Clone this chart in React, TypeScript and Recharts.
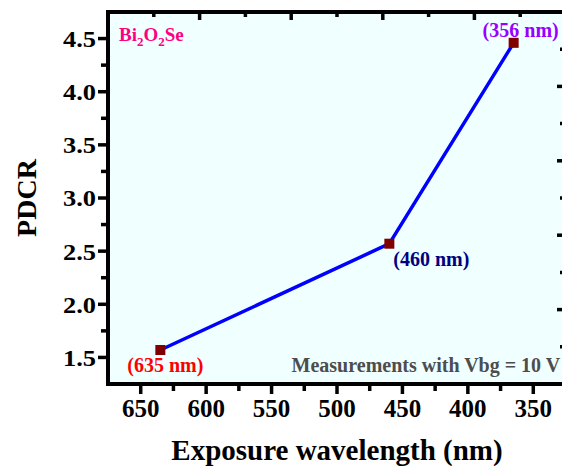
import React from 'react';
import { LineChart, Line, XAxis, YAxis, CartesianGrid, ReferenceArea, ReferenceDot } from 'recharts';

// measured points (x = exposure wavelength, nm)
const wavelengths = [635, 460, 365];
const pdcr = [1.57, 2.57, 4.46];
const pointLabels = ['(635 nm)', '(460 nm)', '(356 nm)'];

const xTicks = [650, 625, 600, 575, 550, 525, 500, 475, 450, 425, 400, 375, 350];
const yTicks = [1.5, 1.75, 2.0, 2.25, 2.5, 2.75, 3.0, 3.25, 3.5, 3.75, 4.0, 4.25, 4.5];
// the top / right frame ticks split the box into 10 equal parts
const topTicks = [640, 605, 570, 535, 500, 465, 430, 395, 360];
const rightTicks = [1.6, 1.95, 2.3, 2.65, 3.0, 3.35, 3.7, 4.05, 4.4];

const data = wavelengths.map((w, i) => ({ w, pdcr: pdcr[i], label: pointLabels[i] }));

const X_DOMAIN = [325, 675];
const Y_DOMAIN = [1.25, 4.75];
const FONT = 'Liberation Serif, serif';

const labelStyles = [
    { color: '#FF0000', dx: 5, dy: 22, anchor: 'middle' },
    { color: '#000080', dx: 4, dy: 22, anchor: 'start' },
    { color: '#9900FF', dx: 7, dy: -6, anchor: 'middle' },
];

const SquareDot = (props: any) => {
    const { cx, cy, index, payload } = props;
    const s = labelStyles[index];
    return (
        <g>
            <rect x={cx - 5} y={cy - 5} width={10} height={10} fill="#800000" />
            <text
                x={cx + s.dx}
                y={cy + s.dy}
                textAnchor={s.anchor}
                fill={s.color}
                fontFamily={FONT}
                fontWeight="bold"
                fontSize={20}
            >
                {payload.label}
            </text>
        </g>
    );
};

const BottomTick = (props: any) => {
    const { x, y, payload } = props;
    const major = payload.value % 50 === 0;
    return (
        <g>
            <line x1={x} y1={y} x2={x} y2={y + (major ? 10 : 7)} stroke="#000" strokeWidth={3.5} />
            {major && (
                <text x={x} y={y + 33} textAnchor="middle" fontFamily={FONT} fontWeight="bold" fontSize={25} fill="#000">
                    {payload.value}
                </text>
            )}
        </g>
    );
};

const LeftTick = (props: any) => {
    const { x, y, payload } = props;
    const major = Math.abs(payload.value * 2 - Math.round(payload.value * 2)) < 1e-6;
    return (
        <g>
            <line x1={x} y1={y} x2={x - (major ? 10 : 7)} y2={y} stroke="#000" strokeWidth={3.5} />
            {major && (
                <text
                    x={x - 12}
                    y={y}
                    dy="0.35em"
                    textAnchor="end"
                    fontFamily={FONT}
                    fontWeight="bold"
                    fontSize={24}
                    fill="#000"
                    textLength={33}
                    lengthAdjust="spacingAndGlyphs"
                >
                    {payload.value.toFixed(1)}
                </text>
            )}
        </g>
    );
};

const TopTick = (props: any) => {
    const { x, y, index } = props;
    const len = index % 2 === 1 ? 8 : 5;
    return <line x1={x} y1={y} x2={x} y2={y + len} stroke="#000" strokeWidth={3.5} />;
};

const RightTick = (props: any) => {
    const { x, y, index } = props;
    const len = index % 2 === 1 ? 9 : 6;
    return <line x1={x} y1={y} x2={x - len} y2={y} stroke="#000" strokeWidth={3.5} />;
};

const TextAt = (content: React.ReactNode, color: string, size: number) => (p: any) => (
    <text x={p.cx} y={p.cy} fill={color} fontFamily={FONT} fontWeight="bold" fontSize={size}>
        {content}
    </text>
);

export default function App() {
    return (
        <div style={{ position: 'absolute', left: 0, top: 0, width: 562, height: 466, overflow: 'hidden', background: '#fff' }}>
            <LineChart width={580} height={466} data={data} margin={{ top: 11, right: 13, bottom: 0, left: 0 }}>
                <CartesianGrid fill="#F0FFFF" fillOpacity={1} stroke="none" horizontal={false} vertical={false} />
                <XAxis
                    dataKey="w"
                    type="number"
                    domain={X_DOMAIN}
                    reversed
                    ticks={xTicks}
                    interval={0}
                    height={82}
                    tickSize={0}
                    tickMargin={0}
                    tickLine={false}
                    axisLine={false}
                    tick={<BottomTick />}
                    label={{
                        value: 'Exposure wavelength (nm)',
                        position: 'insideBottom',
                        offset: 6,
                        style: { fontFamily: FONT, fontWeight: 'bold', fontSize: 29, fill: '#000' },
                    }}
                />
                <XAxis
                    xAxisId="top"
                    orientation="top"
                    dataKey="w"
                    type="number"
                    domain={X_DOMAIN}
                    reversed
                    ticks={topTicks}
                    interval={0}
                    height={1}
                    tickSize={0}
                    tickMargin={0}
                    tickLine={false}
                    axisLine={false}
                    tick={<TopTick />}
                />
                <YAxis
                    type="number"
                    domain={Y_DOMAIN}
                    ticks={yTicks}
                    interval={0}
                    width={108}
                    tickSize={0}
                    tickMargin={0}
                    tickLine={false}
                    axisLine={false}
                    tick={<LeftTick />}
                    label={{
                        value: 'PDCR',
                        angle: -90,
                        position: 'insideLeft',
                        offset: 26,
                        style: { fontFamily: FONT, fontWeight: 'bold', fontSize: 28, fill: '#000', textAnchor: 'middle' },
                    }}
                />
                <YAxis
                    yAxisId="right"
                    orientation="right"
                    type="number"
                    domain={Y_DOMAIN}
                    ticks={rightTicks}
                    interval={0}
                    width={1}
                    tickSize={0}
                    tickMargin={0}
                    tickLine={false}
                    axisLine={false}
                    tick={<RightTick />}
                />
                {/* plot frame */}
                <ReferenceArea
                    x1={X_DOMAIN[0]}
                    x2={X_DOMAIN[1]}
                    y1={Y_DOMAIN[0]}
                    y2={Y_DOMAIN[1]}
                    fill="none"
                    stroke="#000"
                    strokeWidth={4}
                    ifOverflow="visible"
                />
                <ReferenceDot
                    x={666.6}
                    y={4.476}
                    r={0}
                    shape={TextAt(
                        <>
                            Bi<tspan fontSize={13} dy={5}>2</tspan>
                            <tspan dy={-5}>O</tspan>
                            <tspan fontSize={13} dy={5}>2</tspan>
                            <tspan dy={-5}>Se</tspan>
                        </>,
                        '#FF0080',
                        19
                    )}
                />
                <ReferenceDot
                    x={534.7}
                    y={1.363}
                    r={0}
                    shape={TextAt('Measurements with Vbg = 10 V', '#4D4D4D', 20)}
                />
                {/* invisible series so the top/right frame axes get drawn */}
                <Line
                    xAxisId="top"
                    yAxisId="right"
                    dataKey="pdcr"
                    stroke="none"
                    dot={false}
                    activeDot={false}
                    legendType="none"
                    isAnimationActive={false}
                />
                <Line
                    dataKey="pdcr"
                    type="linear"
                    stroke="#0000FF"
                    strokeWidth={3.5}
                    dot={<SquareDot />}
                    activeDot={false}
                    isAnimationActive={false}
                />
            </LineChart>
        </div>
    );
}
